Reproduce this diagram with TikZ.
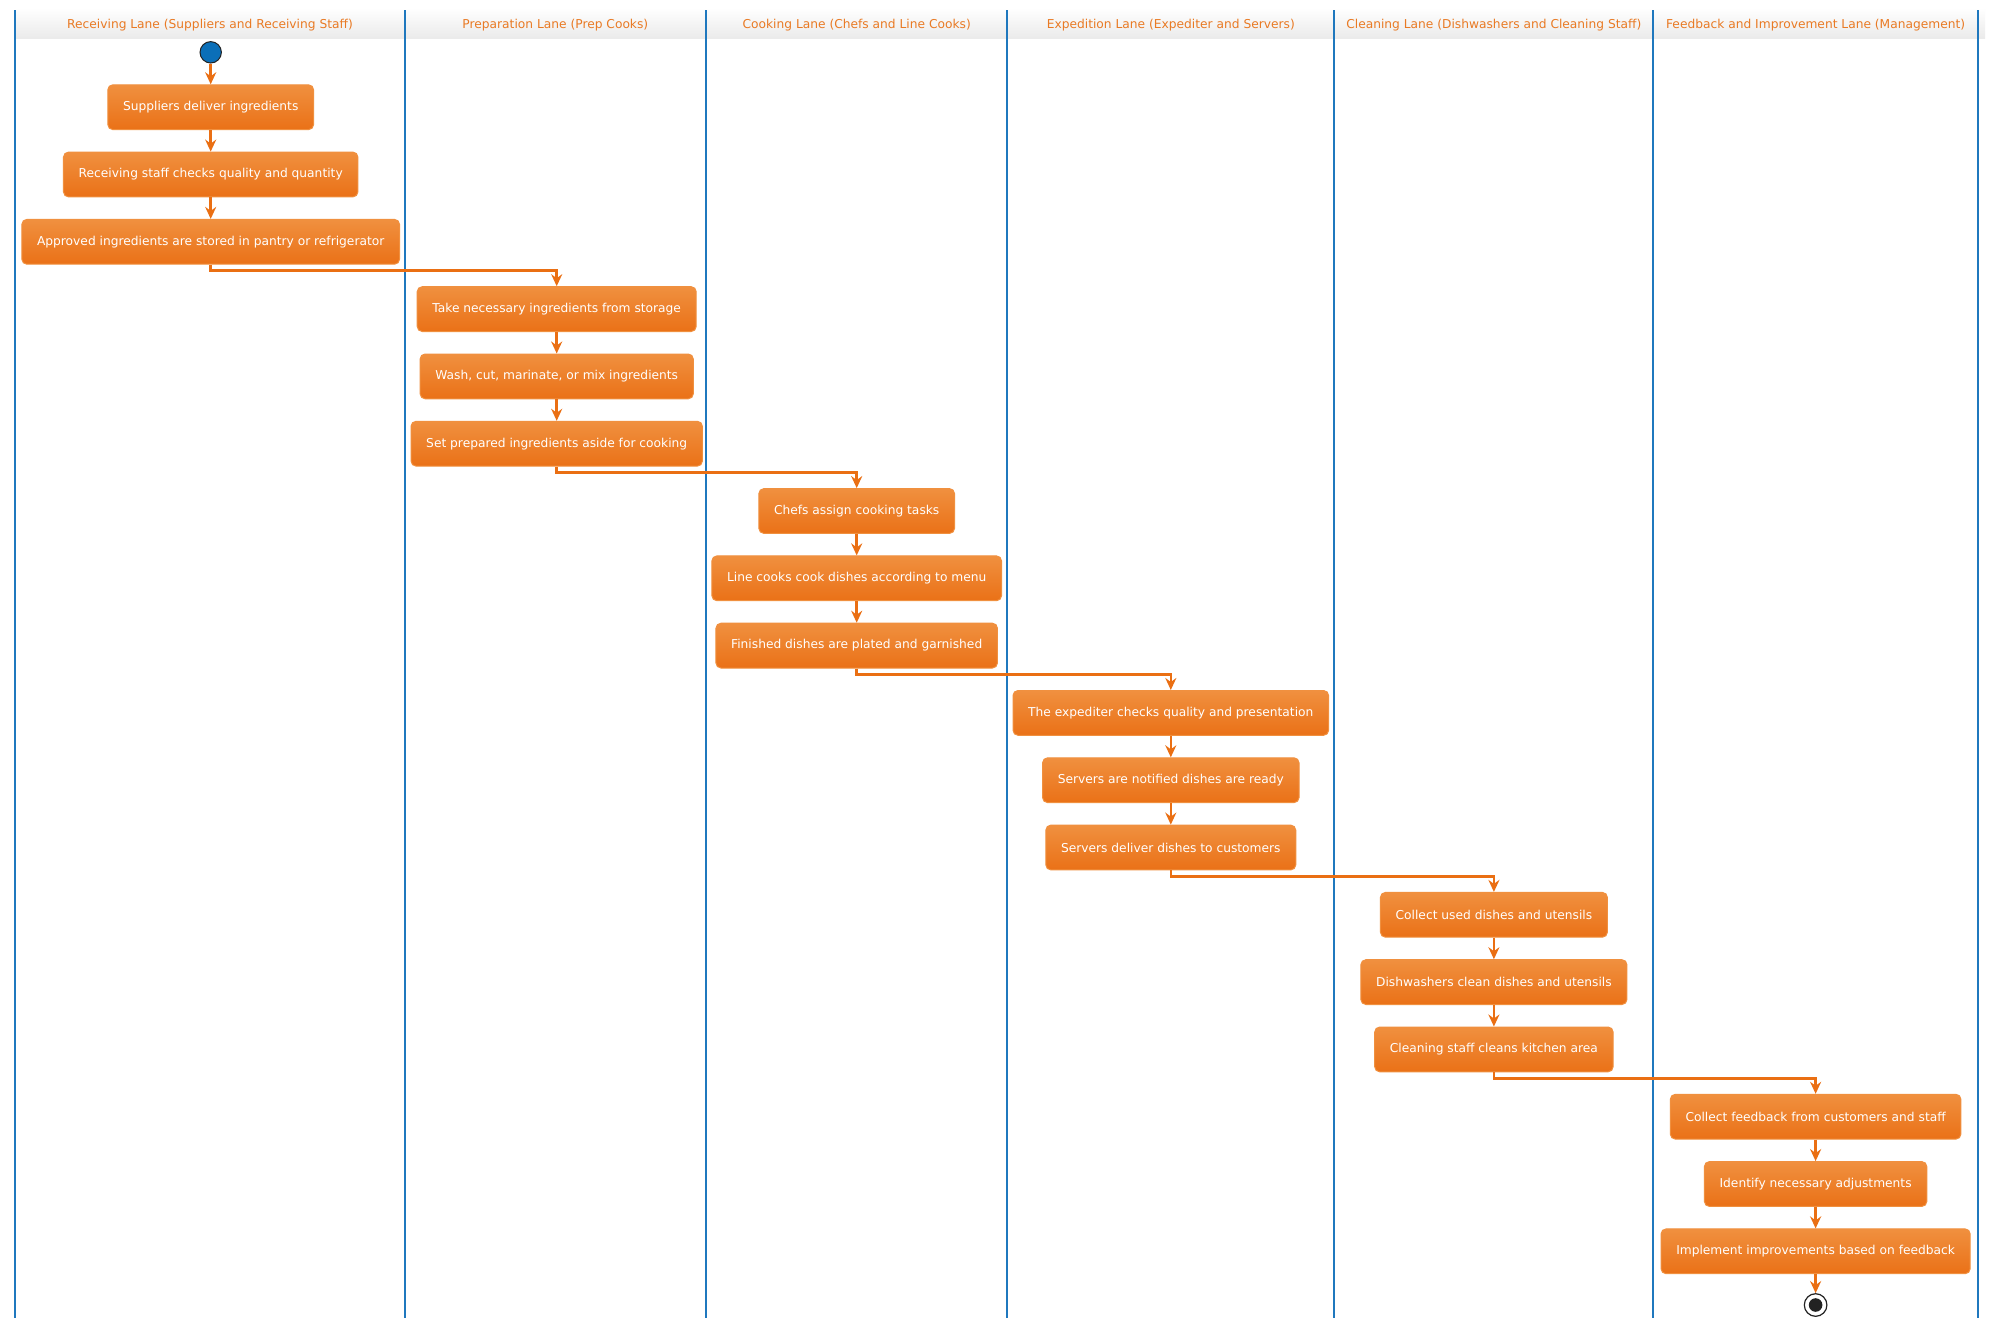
\documentclass[tikz,border=0pt]{standalone}
\usepackage{fontspec}
\setmainfont{DejaVu Sans}
\usetikzlibrary{arrows.meta,calc}
\definecolor{lanec}{HTML}{1F78BE}
\definecolor{acttop}{HTML}{F0903F}
\definecolor{actbot}{HTML}{EA7117}
\definecolor{flowc}{HTML}{EA6F13}
\definecolor{headc}{HTML}{E97A24}
\definecolor{startc}{HTML}{0B6FB8}
\definecolor{endc}{HTML}{222222}
\tikzset{
  act/.style={draw=acttop,line width=0.5pt,rounded corners=2.5pt,top color=acttop,bottom color=actbot,
    text=white,font=\fontsize{6.12}{7}\selectfont,minimum height=22.4pt,inner xsep=7.6pt},
  ar/.style={-{Stealth[length=6pt,width=5.5pt,inset=2pt]},line width=1.3pt,flowc},
  lane/.style={lanec,line width=1pt},
  hd/.style={text=headc,font=\fontsize{6.12}{7}\selectfont}
}
\begin{document}
\begin{tikzpicture}[x=0.5pt,y=0.5pt]
\useasboundingbox (0,0) rectangle (2002,-1329);
\fill[white] (0,0) rectangle (2002,-1329);
% lane headers
\shade[top color=white,bottom color=black!8] (15,-8) rectangle (1985,-38);
\foreach \xa/\xb/\name [count=\k] in {
  15.3/404.7/Receiving Lane (Suppliers and Receiving Staff),
  404.7/706/Preparation Lane (Prep Cooks),
  706/1007.4/Cooking Lane (Chefs and Line Cooks),
  1007.4/1334.2/Expedition Lane (Expediter and Servers),
  1334.2/1653.4/Cleaning Lane (Dishwashers and Cleaning Staff),
  1653.4/1977.8/Feedback and Improvement Lane (Management)}
  \node[hd] (h\k) at ({(\xa+\xb)/2},-25) {\name};
\foreach \x in {15.3,404.7,706,1007.4,1334.2,1653.4,1977.8}
  \draw[lane] (\x,-10) -- (\x,-1318);
% activities
\foreach \lnum/\txt [count=\i] in {
  1/Suppliers deliver ingredients,
  1/Receiving staff checks quality and quantity,
  1/Approved ingredients are stored in pantry or refrigerator,
  2/Take necessary ingredients from storage,
  2/{Wash, cut, marinate, or mix ingredients},
  2/Set prepared ingredients aside for cooking,
  3/Chefs assign cooking tasks,
  3/Line cooks cook dishes according to menu,
  3/Finished dishes are plated and garnished,
  4/The expediter checks quality and presentation,
  4/Servers are notified dishes are ready,
  4/Servers deliver dishes to customers,
  5/Collect used dishes and utensils,
  5/Dishwashers clean dishes and utensils,
  5/Cleaning staff cleans kitchen area,
  6/Collect feedback from customers and staff,
  6/Identify necessary adjustments,
  6/Implement improvements based on feedback}{
  \pgfmathsetmacro\cx{{210.7,556.7,856.7,1170.8,1493.9,1815.6}[\lnum-1]}
  \node[act] (a\i) at (\cx,{-107.2-67.3*(\i-1)}) {\txt};
}
% start and end
\node[circle,fill=startc,draw=endc,line width=0.5pt,minimum size=10.7pt,inner sep=0] (st) at (210.7,-52.3) {};
\node[circle,draw=endc,line width=0.6pt,minimum size=11.3pt,inner sep=0] (en) at (1815.6,-1305) {};
\node[circle,fill=endc,minimum size=6.8pt,inner sep=0] (enin) at (en) {};
% flows
\draw[ar] (st) -- (a1);
\foreach \a/\b in {1/2,2/3,4/5,5/6,7/8,8/9,10/11,11/12,13/14,14/15,16/17,17/18}
  \draw[ar] (a\a) -- (a\b);
\foreach \a/\b in {3/4,6/7,9/10,12/13,15/16}
  \draw[ar] (a\a.south) -- ++(0,-6) -| (a\b.north);
\draw[ar] (a18) -- (en);
\end{tikzpicture}
\end{document}
